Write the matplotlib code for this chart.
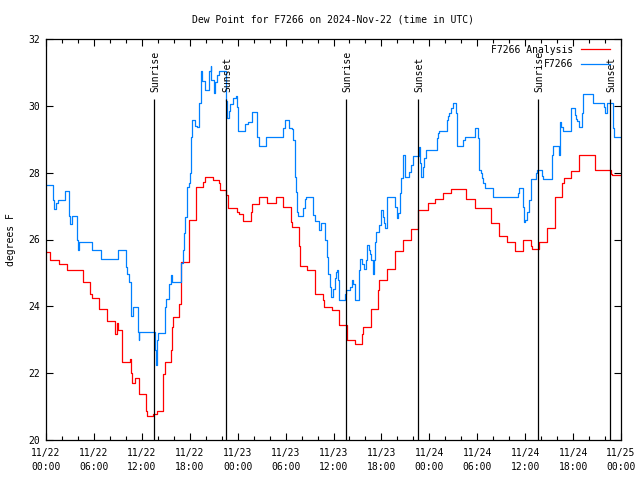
import matplotlib
matplotlib.use("Agg")
import matplotlib.pyplot as plt
import numpy as np

# hours since 2024-11-22 00:00 UTC
obs_hours = [0.0, 0.9, 1.0, 1.3, 1.5, 2.4, 2.9, 3.05, 3.2, 3.85, 4.0, 4.1, 5.8, 6.9, 9.0,
             10.05, 10.2, 10.4, 10.6, 10.7, 10.9, 11.5, 11.6, 11.7, 13.6, 13.78, 13.94, 14.0,
             14.94, 15.05, 15.44, 15.6, 15.78, 16.85, 17.1, 17.28, 17.45, 17.6, 17.85, 18.0,
             18.2, 18.3, 18.6, 18.9, 19.2, 19.45, 19.55, 19.95, 20.3, 20.45, 20.6, 20.7, 21.0,
             21.2, 21.45, 21.7, 22.55, 22.7, 22.9, 23.1, 23.45, 23.85, 23.9, 24.0, 24.1, 24.95,
             25.3, 25.79, 26.46, 26.63, 27.6, 29.7, 29.97, 30.3, 30.47, 30.8, 30.97, 31.14,
             31.3, 31.47, 31.6, 32.2, 32.4, 32.55, 33.39, 33.72, 34.2, 34.4, 34.98, 35.15,
             35.3, 35.56, 35.72, 35.89, 36.15, 36.3, 36.4, 36.55, 36.73, 37.4, 37.56, 38.1,
             38.31, 38.5, 38.65, 39.15, 39.32, 39.6, 39.8, 40.05, 40.23, 40.4, 40.55, 40.7,
             40.9, 41.05, 41.15, 41.32, 41.65, 41.9, 42.15, 42.32, 42.49, 42.65, 43.7, 43.9,
             44.1, 44.33, 44.5, 44.74, 44.91, 45.5, 45.75, 45.91, 46.66, 46.83, 47.0, 47.15,
             47.35, 47.58, 48.9, 49.05, 49.25, 50.17, 50.35, 50.5, 50.75, 50.92, 51.34, 51.5,
             52.17, 52.5, 53.67, 54.09, 54.18, 54.26, 54.45, 54.6, 54.76, 54.92, 55.93, 59.1,
             59.27, 59.68, 59.85, 60.0, 60.2, 60.5, 60.69, 61.4, 61.53, 62.1, 62.28, 63.37,
             63.53, 64.2, 64.37, 64.53, 64.7, 65.7, 66.2, 66.4, 66.55, 66.7, 67.1, 67.29,
             68.46, 69.85, 70.04, 70.2, 70.96, 71.1, 72.0]
obs_dewpt = [27.62, 27.18, 26.9, 27.08, 27.18, 27.44, 26.7, 26.46, 26.7, 25.98, 25.7, 25.94,
             25.7, 25.43, 25.7, 25.18, 24.98, 24.72, 23.98, 23.72, 23.98, 23.22, 22.98, 23.22,
             22.68, 22.23, 22.98, 23.2, 23.98, 24.23, 24.68, 24.94, 24.72, 25.3, 25.7, 26.18,
             26.68, 27.58, 27.68, 27.98, 29.08, 29.58, 29.4, 29.38, 30.08, 31.03, 30.73, 30.48,
             30.48, 31.03, 31.2, 30.78, 30.38, 30.7, 30.93, 31.03, 30.13, 29.63, 29.85, 30.05,
             30.23, 30.28, 29.98, 29.28, 29.25, 29.45, 29.53, 29.83, 29.08, 28.8, 29.06, 29.33,
             29.58, 29.58, 29.33, 29.3, 28.98, 27.88, 27.43, 26.83, 26.7, 26.95, 27.2, 27.26,
             26.73, 26.54, 26.28, 26.5, 25.98, 25.48, 24.98, 24.58, 24.28, 24.53, 24.85, 25.03,
             25.1, 24.78, 24.18, 24.38, 24.48, 24.58, 24.78, 24.68, 24.18, 25.08, 25.43, 25.28,
             25.13, 25.38, 25.83, 25.68, 25.58, 25.38, 24.98, 25.38, 25.93, 26.23, 26.43, 26.88,
             26.68, 26.48, 26.33, 27.28, 26.98, 26.63, 26.78, 27.38, 27.83, 28.53, 27.88, 28.03,
             28.23, 28.5, 28.78, 28.28, 27.88, 28.18, 28.43, 28.68, 29.03, 29.18, 29.25, 29.58,
             29.7, 29.8, 29.93, 30.08, 29.78, 28.8, 28.98, 29.06, 29.33, 29.03, 28.38, 28.08,
             27.98, 27.83, 27.68, 27.53, 27.28, 27.4, 27.53, 26.98, 26.53, 26.58, 26.83, 27.18,
             27.8, 28.0, 28.08, 27.9, 27.8, 28.53, 28.8, 28.53, 29.53, 29.38, 29.26, 29.93,
             29.73, 29.6, 29.55, 29.36, 29.78, 30.35, 30.08, 29.98, 29.78, 30.08, 29.33, 29.06,
             29.06]

ana_hours = [0.0, 0.46, 1.6, 2.6, 4.6, 5.5, 5.75, 6.6, 7.6, 8.6, 8.9, 9.05, 9.5, 10.5, 10.65,
             10.8, 11.2, 11.6, 12.5, 12.69, 13.45, 13.85, 14.6, 14.7, 14.85, 15.7, 15.78, 15.85,
             16.7, 16.86, 17.86, 18.78, 19.7, 19.95, 20.87, 21.6, 21.8, 22.6, 22.8, 23.87, 24.2,
             24.71, 25.7, 25.85, 26.71, 27.71, 28.8, 29.72, 30.72, 30.85, 31.72, 31.8, 32.72,
             33.72, 34.73, 34.85, 35.8, 36.64, 37.65, 37.75, 38.65, 39.6, 39.7, 40.65, 40.75,
             41.55, 41.65, 42.65, 43.66, 43.75, 44.66, 45.66, 46.58, 47.83, 48.75, 49.75, 50.67,
             52.59, 53.67, 55.68, 56.68, 57.68, 58.68, 59.68, 60.69, 60.8, 61.7, 62.7, 63.7,
             63.78, 64.62, 64.8, 65.7, 66.7, 66.79, 68.71, 70.8, 70.9, 72.0]
ana_dewpt = [25.64, 25.38, 25.26, 25.1, 24.74, 24.38, 24.26, 23.93, 23.55, 23.18, 23.5, 23.3,
             22.33, 22.43, 22.0, 21.7, 21.85, 21.38, 20.86, 20.73, 20.78, 20.88, 21.28, 21.98,
             22.33, 22.68, 23.38, 23.68, 24.08, 25.33, 26.58, 27.58, 27.73, 27.86, 27.78, 27.68,
             27.48, 27.33, 26.93, 26.83, 26.76, 26.54, 26.83, 27.06, 27.26, 27.08, 27.26, 26.98,
             26.53, 26.36, 25.8, 25.21, 25.1, 24.36, 24.18, 23.98, 23.9, 23.43, 23.18, 23.0,
             22.88, 23.18, 23.38, 23.78, 23.93, 24.5, 24.8, 25.13, 25.53, 25.66, 26.0, 26.32,
             26.88, 27.08, 27.2, 27.38, 27.5, 27.2, 26.93, 26.5, 26.1, 25.93, 25.65, 25.98, 25.8,
             25.73, 25.93, 26.33, 26.6, 27.28, 27.7, 27.83, 28.06, 28.33, 28.53, 28.08, 27.96,
             27.93, 27.93]

sunrise_hours = [13.5, 37.55, 61.58]
sunset_hours = [22.5, 46.55, 70.6]

tick_hours = list(range(0, 73, 6))
tick_labels = []
for h in tick_hours:
    tick_labels.append("11/%d\n%02d:00" % (22 + h // 24, h % 24))

mono = "DejaVu Sans Mono"
fs = 7

fig = plt.figure(figsize=(6.4, 4.8), dpi=100)
ax = fig.add_axes([46 / 640, 40 / 480, 575 / 640, 401 / 480])

ax.plot(ana_hours, ana_dewpt, drawstyle="steps-post", color="#ff0000", lw=0.9,
        label="F7266 Analysis")
ax.plot(obs_hours, obs_dewpt, drawstyle="steps-post", color="#0080ff", lw=0.9,
        label="F7266")

# sunrise / sunset markers
line_top = 30.2
for h in sunrise_hours:
    ax.vlines(h, 20, line_top, color="black", lw=0.9)
    ax.text(h + 0.15, 30.4, "Sunrise", rotation=90, ha="center", va="bottom",
            family=mono, fontsize=fs)
for h in sunset_hours:
    ax.vlines(h, 20, line_top, color="black", lw=0.9)
    ax.text(h + 0.15, 30.4, "Sunset", rotation=90, ha="center", va="bottom",
            family=mono, fontsize=fs)

ax.set_xlim(0, 72)
ax.set_ylim(20, 32)
ax.set_xticks(tick_hours)
ax.set_xticklabels(tick_labels)
ax.set_xticks(np.arange(0, 73, 2), minor=True)
ax.set_yticks(np.arange(20, 33, 2))
ax.tick_params(which="both", direction="in", top=True, right=True, width=0.8,
               labelsize=fs, pad=4)
ax.tick_params(axis="x", pad=6)
ax.tick_params(which="major", length=5)
ax.tick_params(which="minor", length=3)
for lab in ax.get_xticklabels():
    lab.set_family(mono)
    lab.set_linespacing(1.45)
for lab in ax.get_yticklabels():
    lab.set_family(mono)
for s in ax.spines.values():
    s.set_linewidth(0.9)

ax.set_ylabel("degrees F", family=mono, fontsize=fs, labelpad=9)
fig.text(0.52, 1 - 20 / 480, "Dew Point for F7266 on 2024-Nov-22 (time in UTC)",
         ha="center", va="center", family=mono, fontsize=fs)

leg = ax.legend(loc="upper right", bbox_to_anchor=(0.993, 1.003), frameon=False,
                markerfirst=False, prop={"family": mono, "size": fs},
                handlelength=3.0, handletextpad=0.8, labelspacing=0.45,
                borderaxespad=0.3)

fig.savefig("out.png", dpi=100)
